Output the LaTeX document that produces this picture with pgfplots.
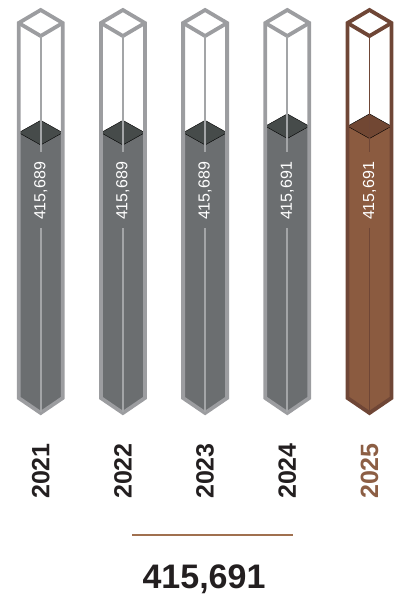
\documentclass[border=0pt]{standalone}
\usepackage{pgfplots}
\pgfplotsset{compat=1.18}
\usepackage{fontspec}
\setmainfont{Liberation Sans}
\definecolor{tubeline}{HTML}{9C9DA0}
\definecolor{tubefill}{HTML}{6B6E70}
\definecolor{tubetop}{HTML}{464B4A}
\definecolor{tubecenter}{HTML}{A3A5A7}
\definecolor{brline}{HTML}{6F4636}
\definecolor{brfill}{HTML}{8B5B40}
\definecolor{brtop}{HTML}{714733}
\definecolor{brtext}{HTML}{8C5E44}
\definecolor{rulecol}{HTML}{A0704F}
\definecolor{ink}{HTML}{231F20}
\begin{document}
\begin{tikzpicture}[x=1bp,y=1bp]
\useasboundingbox (0,-198) rectangle (398,398);
\begin{axis}[
  at={(0,0)}, anchor=south west,
  scale only axis, width=398bp, height=398bp,
  xmin=-0.4951, xmax=4.3467,
  ymin=415607, ymax=415730,
  hide axis,
]
% grey bars 2021-2024
\addplot[ybar, bar width=44bp, bar shift=0pt, fill=tubefill, draw=none]
  coordinates {(0,415689) (1,415689) (2,415689) (3,415691)};
\addplot[only marks, mark=diamond*, mark size=29.33bp,
  mark options={yscale=0.42, fill=tubetop, draw=none}]
  coordinates {(0,415689) (1,415689) (2,415689) (3,415691)};
% brown bar 2025
\addplot[ybar, bar width=44bp, bar shift=0pt, fill=brfill, draw=none]
  coordinates {(4,415691)};
\addplot[only marks, mark=diamond*, mark size=29.33bp,
  mark options={yscale=0.42, fill=brtop, draw=none}]
  coordinates {(4,415691)};
\end{axis}
% tube frames, centre lines and labels
\foreach \i/\lab/\yr in {0/415{,}689/2021,1/415{,}689/2022,2/415{,}689/2023,3/415{,}691/2024,4/415{,}691/2025}{
  \pgfmathsetmacro{\cx}{40.7+82.2*\i}
  \ifnum\i=4
    \def\lc{brline}\def\cc{brline}\def\yc{brtext}\def\fc{brfill}
  \else
    \def\lc{tubeline}\def\cc{tubecenter}\def\yc{ink}\def\fc{tubefill}
  \fi
  \fill[\fc] (\cx-22,0.5) -- (\cx+22,0.5) -- (\cx+22,0) -- (\cx,-15) -- (\cx-22,0) -- cycle;
  \draw[\lc, line width=3.8bp, line join=miter]
    (\cx-22,0) -- (\cx-22,375) -- (\cx,388) -- (\cx+22,375) -- (\cx+22,0) -- (\cx,-15) -- cycle;
  \draw[\lc, line width=3.8bp, line join=miter]
    (\cx-22,375) -- (\cx,362) -- (\cx+22,375);
  \draw[\cc, line width=1.8bp] (\cx,362) -- (\cx,246);
  \draw[\cc, line width=1.8bp] (\cx,170) -- (\cx,-14);
  \node[rotate=90, text=white, inner sep=0pt, font=\fontsize{16bp}{16bp}\selectfont] at (\cx,207) {\lab};
  \node[rotate=90, text=\yc, inner sep=0pt, font=\fontsize{25bp}{25bp}\selectfont\bfseries] at (\cx,-73) {\yr};
}
\draw[rulecol, line width=2.5bp] (132,-137) -- (293,-137);
\node[anchor=base, text=ink, inner sep=0pt, font=\fontsize{34bp}{34bp}\selectfont\bfseries] at (204,-190) {415,691};
\end{tikzpicture}
\end{document}
